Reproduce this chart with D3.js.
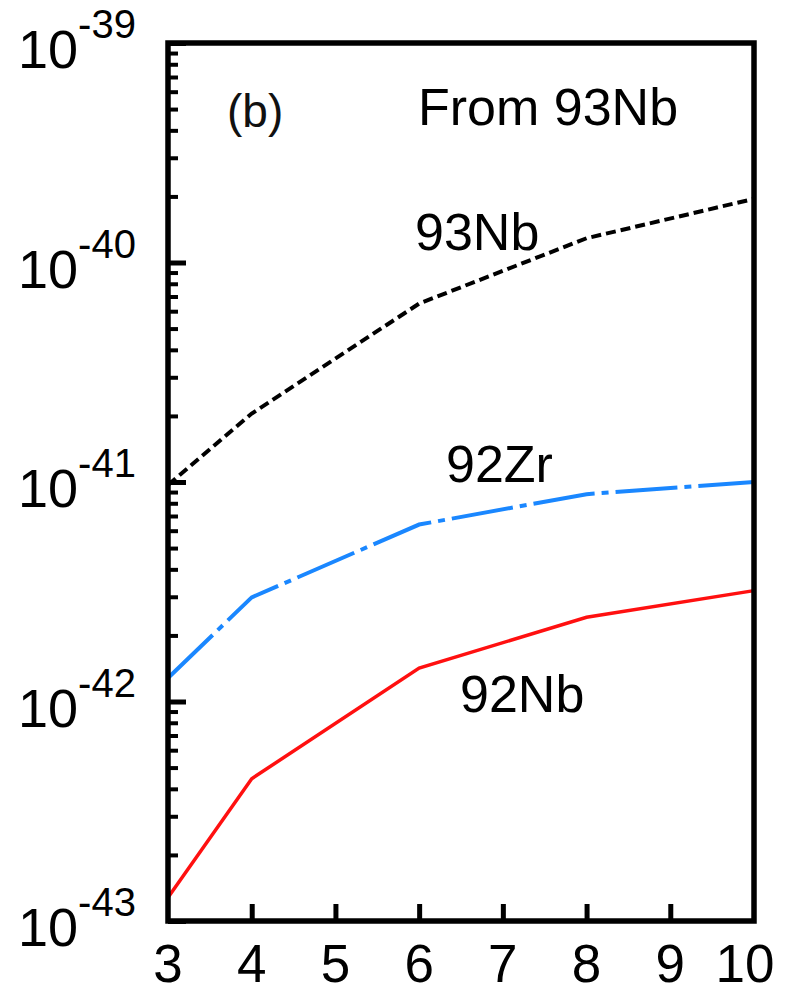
<!DOCTYPE html>
<html>
<head>
<meta charset="utf-8">
<script src="https://cdn.jsdelivr.net/npm/d3@7"></script>
<style>
  body { margin: 0; background: #fff; }
  text { font-family: "Liberation Sans", Arial, sans-serif; fill: #000; }
</style>
</head>
<body>
<div id="chart"></div>
<script>
// data
var xValues = [3, 4, 6, 8, 10];
var nb93 = [0.97e-41, 2.05e-41, 6.5e-41, 1.29e-40, 1.95e-40];
var zr92 = [1.28e-42, 2.98e-42, 6.4e-42, 8.8e-42, 1.0e-41];
var nb92 = [1.28e-43, 4.45e-43, 1.42e-42, 2.42e-42, 3.2e-42];
var xTicks = [3, 4, 5, 6, 7, 8, 9, 10];
var yMajor = [-43, -42, -41, -40, -39];

// set the dimensions and margins of the graph
var margin = { top: 43, right: 35, bottom: 72, left: 168 },
  width = 789 - margin.left - margin.right,
  height = 993 - margin.top - margin.bottom;

var svg = d3
  .select("#chart")
  .append("svg")
  .attr("width", 789)
  .attr("height", 993)
  .append("g")
  .attr("transform", "translate(" + margin.left + "," + margin.top + ")");

var x = d3.scaleLinear().domain([3, 10]).range([0, width]);
var y = d3.scaleLog().domain([1e-43, 1e-39]).range([height, 0]);

// minor ticks 2..9 in each decade
var minor = [];
yMajor.slice(0, -1).forEach(function (e) {
  for (var k = 2; k <= 9; k++) minor.push(k * Math.pow(10, e));
});

svg
  .append("g")
  .call(d3.axisLeft(y).tickValues(minor).tickSize(-10).tickFormat(""))
  .call(function (g) {
    g.select(".domain").remove();
    g.selectAll("line").attr("stroke", "#000").attr("stroke-width", 4);
  });

svg
  .append("g")
  .call(
    d3.axisLeft(y)
      .tickValues(yMajor.map(function (e) { return Math.pow(10, e); }))
      .tickSize(-18)
      .tickFormat("")
  )
  .call(function (g) {
    g.select(".domain").remove();
    g.selectAll("line").attr("stroke", "#000").attr("stroke-width", 5);
  });

// x ticks pointing inward
svg
  .append("g")
  .attr("transform", "translate(0," + height + ")")
  .call(d3.axisBottom(x).tickValues(xTicks.slice(1, -1)).tickSize(-17).tickFormat(""))
  .call(function (g) {
    g.select(".domain").remove();
    g.selectAll("line").attr("stroke", "#000").attr("stroke-width", 5);
  });

// x tick labels
svg
  .append("g")
  .selectAll("text")
  .data(xTicks)
  .enter()
  .append("text")
  .attr("x", function (d) { return x(d) + (d === 10 ? -9 : 0); })
  .attr("y", height + 61)
  .attr("text-anchor", "middle")
  .style("font-size", "53px")
  .text(function (d) { return d; });

// y tick labels 10^n
var yl = svg
  .append("g")
  .selectAll("text")
  .data(yMajor)
  .enter()
  .append("text")
  .attr("x", 18 - margin.left)
  .attr("y", function (d) { return y(Math.pow(10, d)) + 25; })
  .style("font-size", "54px");
yl.append("tspan").text("10");
yl.append("tspan")
  .attr("dy", -30)
  .style("font-size", "40px")
  .text(function (d) { return "-" + Math.abs(d); });

// lines
var line = d3
  .line()
  .x(function (d, i) { return x(xValues[i]); })
  .y(function (d) { return y(d); });

svg.append("path")
  .datum(nb93)
  .attr("d", line)
  .attr("fill", "none")
  .attr("stroke", "#000")
  .attr("stroke-width", 4)
  .attr("stroke-dasharray", "10,5");

svg.append("path")
  .datum(zr92)
  .attr("d", line)
  .attr("fill", "none")
  .attr("stroke", "#1a87ff")
  .attr("stroke-width", 4)
  .attr("stroke-dasharray", "62,7,7,7");

svg.append("path")
  .datum(nb92)
  .attr("d", line)
  .attr("fill", "none")
  .attr("stroke", "#ff1010")
  .attr("stroke-width", 3.5);

// frame
svg.append("rect")
  .attr("width", width)
  .attr("height", height)
  .attr("fill", "none")
  .attr("stroke", "#000")
  .attr("stroke-width", 5.5);

// annotations
svg.append("text")
  .attr("x", 227 - margin.left)
  .attr("y", 127 - margin.top)
  .style("font-size", "46px")
  .style("fill", "#111")
  .text("(b)");

svg.append("text")
  .attr("x", 418 - margin.left)
  .attr("y", 125 - margin.top)
  .style("font-size", "52px")
  .text("From 93Nb");

svg.append("text")
  .attr("x", 415 - margin.left)
  .attr("y", 250 - margin.top)
  .style("font-size", "52px")
  .text("93Nb");

svg.append("text")
  .attr("x", 446 - margin.left)
  .attr("y", 482 - margin.top)
  .style("font-size", "52px")
  .text("92Zr");

svg.append("text")
  .attr("x", 460 - margin.left)
  .attr("y", 712 - margin.top)
  .style("font-size", "52px")
  .text("92Nb");
</script>
</body>
</html>
